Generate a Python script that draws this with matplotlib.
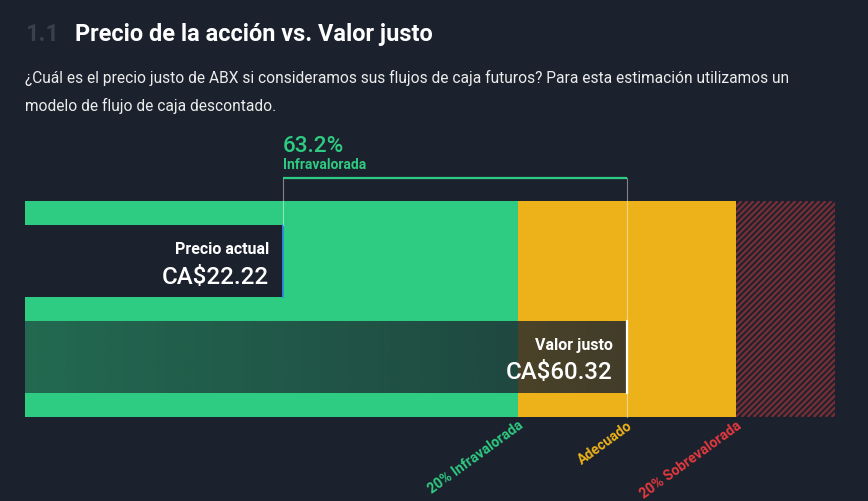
import numpy as np
import matplotlib.pyplot as plt
from matplotlib.patches import Rectangle
from matplotlib.collections import LineCollection

plt.rcParams["font.family"] = ["Roboto", "DejaVu Sans"]

BG = "#1b222d"
GREEN = "#2ecb82"
YELLOW = "#edb21a"
RED = "#e5393f"

# datos
ticker = "ABX"
currency = "CA$"
current_price = 22.22
fair_value = 60.32
zone_factors = [0.8, 1.0, 1.2]
zone_labels = ["20% Infravalorada", "Adecuado", "20% Sobrevalorada"]
zone_colors = [GREEN, YELLOW, RED]
discount = (fair_value - current_price) / fair_value * 100

x_min, x_max = -6.36, 83.4
W, H = 868, 502
px = (x_max - x_min) / 810  # unidades de datos por pixel

fig = plt.figure(figsize=(W / 100, H / 100), dpi=100, facecolor=BG)


def ftext(x, y, s, **kw):
    fig.text(x / W, 1 - y / H, s, va="baseline", **kw)


ftext(25, 41, "1.1", color="#3b414c", fontsize=16.9, fontweight="bold")
ftext(75, 41, "Precio de la acción vs. Valor justo", color="white", fontsize=16.9, fontweight="bold")
ftext(25, 83, f"¿Cuál es el precio justo de {ticker} si consideramos sus flujos de caja futuros? "
              "Para esta estimación utilizamos un", color="#ececec", fontsize=11.2)
ftext(25, 111, "modelo de flujo de caja descontado.", color="#ececec", fontsize=11.2)

ax = fig.add_axes([25 / W, (H - 418) / H, 810 / W, 216 / H])
ax.set_facecolor(BG)

# zonas
low = zone_factors[0] * fair_value
high = zone_factors[2] * fair_value
ax.add_patch(Rectangle((x_min, 0), low - x_min, 216, facecolor=GREEN, lw=0))
ax.add_patch(Rectangle((low, 0), high - low, 216, facecolor=YELLOW, lw=0))
red_zone = Rectangle((high, 0), x_max - high, 216, facecolor=BG, lw=0)
ax.add_patch(red_zone)
segs = []
x0 = high - 216 * px
while x0 < x_max:
    segs.append([(x0, 216), (x0 + 216 * px, 0)])
    x0 += 6 * px
stripes = LineCollection(segs, colors="#762d36", linewidths=1.7)
ax.add_collection(stripes)
stripes.set_clip_path(red_zone)

# precio actual
ax.add_patch(Rectangle((x_min, 24), current_price - x_min, 72, facecolor=BG, lw=0, zorder=3))
ax.plot([current_price, current_price], [24, 96], color="#2b8be0", lw=1.3, zorder=4)

# valor justo (capa oscura con degradado)
bg_rgb = np.array([0x1b, 0x22, 0x2d]) / 255
grad = np.zeros((1, 256, 4))
grad[..., :3] = bg_rgb
grad[..., 3] = np.linspace(0.58, 0.82, 256)
ax.imshow(grad, extent=(x_min, fair_value, 192, 120), aspect="auto", zorder=3,
          interpolation="bilinear")
ax.plot([fair_value, fair_value], [120, 192], color="white", lw=1.6, zorder=5)

ax.set_xlim(x_min, x_max)
ax.set_ylim(216, 0)
ax.axis("off")

# corchete
ax.plot([current_price, current_price], [-23, 24], color="white", alpha=0.45, lw=0.8,
        clip_on=False, zorder=4)
ax.plot([fair_value, fair_value], [-23, 216], color="white", alpha=0.45, lw=0.8,
        clip_on=False, zorder=4)
ax.plot([current_price, fair_value], [-23, -23], color=GREEN, lw=1.6, clip_on=False,
        zorder=5, solid_capstyle="butt")
ax.text(current_price, -50, f"{discount:.1f}%", color=GREEN, fontsize=16.2,
        fontweight="medium", va="baseline", ha="left")
ax.text(current_price, -33, "Infravalorada", color=GREEN, fontsize=10, fontweight="bold",
        va="baseline", ha="left")

# etiquetas de barras
off = -14 * 0.72
ax.annotate("Precio actual", (current_price, 52), xytext=(off, 0), textcoords="offset points",
            ha="right", va="baseline", color="white", fontsize=11.5, fontweight="bold", zorder=6)
ax.annotate(f"{currency}{current_price:.2f}", (current_price, 82), xytext=(off, 0),
            textcoords="offset points", ha="right", va="baseline", color="white",
            fontsize=17.3, fontweight="medium", zorder=6)
ax.annotate("Valor justo", (fair_value, 148), xytext=(off, 0), textcoords="offset points",
            ha="right", va="baseline", color="white", fontsize=11.5, fontweight="bold", zorder=6)
ax.annotate(f"{currency}{fair_value:.2f}", (fair_value, 177), xytext=(off, 0),
            textcoords="offset points", ha="right", va="baseline", color="white",
            fontsize=17.3, fontweight="medium", zorder=6)

# etiquetas de zonas
for f, lab, col in zip(zone_factors, zone_labels, zone_colors):
    ax.text(f * fair_value, 216.5, lab, rotation=36, rotation_mode="anchor",
            ha="right", va="top", color=col, fontsize=10.1, fontweight="bold", clip_on=False)

fig.savefig("out.png", dpi=100, facecolor=BG)
